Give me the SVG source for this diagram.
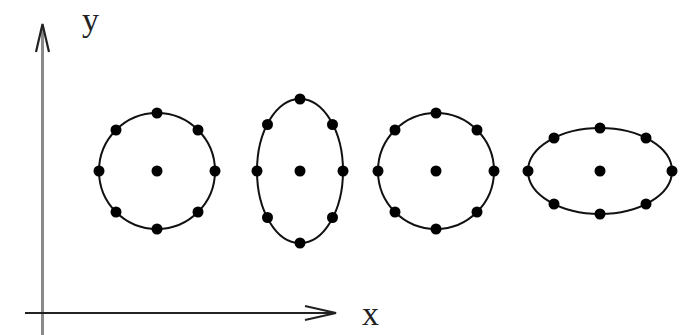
<svg xmlns="http://www.w3.org/2000/svg" width="695" height="335" viewBox="0 0 695 335">
<style>
.curve{fill:none;stroke:#111;stroke-width:2}
.dot{fill:#000}
.lbl{font-family:"Liberation Serif",serif;font-size:34px;fill:#222}
.arrow{fill:none;stroke:#222;stroke-width:2.2;stroke-linejoin:miter}
</style>
<defs>
<circle id="d" r="5.5" class="dot"/>
</defs>
<rect width="695" height="335" fill="#fff"/>
<g id="connectors">
<line x1="42.5" y1="335" x2="42.5" y2="26" stroke="#8a8a8a" stroke-width="3"/>
<polyline class="arrow" points="36,52 42.5,24 49,52"/>
<line x1="25" y1="313" x2="334" y2="313" stroke="#222" stroke-width="2"/>
<polyline class="arrow" points="305,306 336,313 305,320"/>
</g>
<g id="label-y"><text class="lbl" x="82" y="31">y</text></g>
<g id="label-x"><text class="lbl" x="362" y="325">x</text></g>
<g id="shape1">
<ellipse class="curve" cx="157" cy="171" rx="58" ry="58"/>
<use href="#d" x="157" y="171"/>
<use href="#d" x="99" y="171"/><use href="#d" x="215" y="171"/>
<use href="#d" x="157" y="113"/><use href="#d" x="157" y="229"/>
<use href="#d" x="116" y="130"/><use href="#d" x="198" y="130"/>
<use href="#d" x="116" y="212"/><use href="#d" x="198" y="212"/>
</g>
<g id="shape2">
<ellipse class="curve" cx="300" cy="171" rx="43" ry="72"/>
<use href="#d" x="300" y="171"/>
<use href="#d" x="257" y="171"/><use href="#d" x="343" y="171"/>
<use href="#d" x="300" y="99"/><use href="#d" x="300" y="243"/>
<use href="#d" x="267.5" y="124.5"/><use href="#d" x="332.5" y="124.5"/>
<use href="#d" x="267.5" y="217.5"/><use href="#d" x="332.5" y="217.5"/>
</g>
<g id="shape3">
<ellipse class="curve" cx="436" cy="171" rx="58" ry="58"/>
<use href="#d" x="436" y="171"/>
<use href="#d" x="378" y="171"/><use href="#d" x="494" y="171"/>
<use href="#d" x="436" y="113"/><use href="#d" x="436" y="229"/>
<use href="#d" x="395" y="130"/><use href="#d" x="477" y="130"/>
<use href="#d" x="395" y="212"/><use href="#d" x="477" y="212"/>
</g>
<g id="shape4">
<ellipse class="curve" cx="600" cy="171" rx="72" ry="43"/>
<use href="#d" x="600" y="171"/>
<use href="#d" x="528" y="171"/><use href="#d" x="672" y="171"/>
<use href="#d" x="600" y="128"/><use href="#d" x="600" y="214"/>
<use href="#d" x="554" y="138"/><use href="#d" x="646" y="138"/>
<use href="#d" x="554" y="204"/><use href="#d" x="646" y="204"/>
</g>
</svg>
